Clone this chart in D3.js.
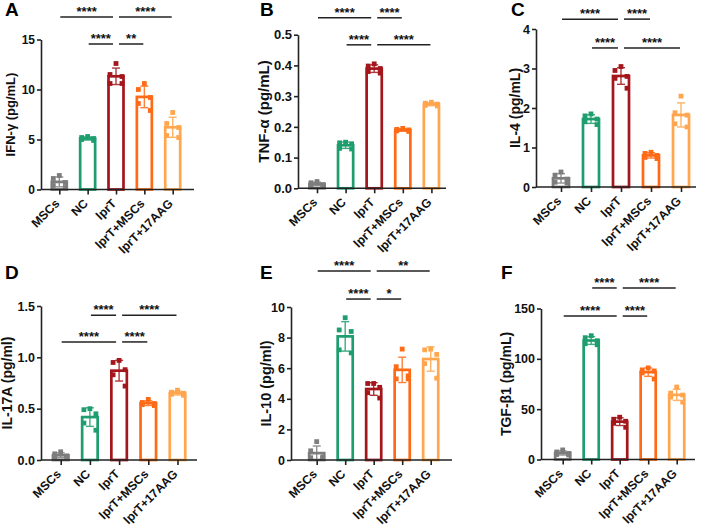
<!DOCTYPE html>
<html>
<head>
<meta charset="utf-8">
<script src="https://cdn.jsdelivr.net/npm/d3@7"></script>
<style>
  body { margin: 0; background: #fff; }
  svg { display: block; font-family: "Liberation Sans", Arial, sans-serif; font-weight: bold; }
</style>
</head>
<body>
<svg id="fig" width="702" height="527"></svg>
<script>
// groups + colours
var groups = ['MSCs', 'NC', 'lprT', 'lprT+MSCs', 'lprT+17AAG']
var colors = ['#7d7d7d', '#1e9e6f', '#a3161c', '#ff6a16', '#ffa64e']

// replicate values per group
var ifng = [[1.4, 1.1, 0.7, 0.4, 0.2], [5.3, 5.2, 5.1, 5.0, 4.9], [12.6, 11.5, 11.3, 10.6, 10.6], [10.6, 10.0, 9.2, 8.6, 7.9], [7.7, 6.6, 6.2, 5.4, 5.2]]
var tnfa = [[0.022, 0.018, 0.012, 0.010, 0.008], [0.15, 0.148, 0.145, 0.13, 0.128], [0.405, 0.398, 0.39, 0.38, 0.375], [0.195, 0.192, 0.19, 0.187, 0.185], [0.28, 0.277, 0.274, 0.27, 0.268]]
var il4 = [[0.38, 0.3, 0.2, 0.12, 0.1], [1.85, 1.8, 1.72, 1.65, 1.58], [3.05, 2.95, 2.8, 2.75, 2.5], [0.88, 0.85, 0.8, 0.75, 0.72], [2.3, 1.88, 1.82, 1.6, 1.52]]
var il17a = [[0.08, 0.06, 0.04, 0.03, 0.02], [0.5, 0.49, 0.45, 0.36, 0.29], [0.97, 0.95, 0.88, 0.83, 0.72], [0.59, 0.56, 0.55, 0.54, 0.53], [0.68, 0.66, 0.65, 0.64, 0.63]]
var il10 = [[1.2, 0.6, 0.2, 0.15, 0.1], [9.3, 8.5, 8.4, 7.2, 7.0], [5.0, 5.0, 4.75, 4.4, 4.05], [7.25, 6.1, 5.5, 5.3, 5.3], [7.25, 7.2, 6.9, 6.3, 5.35]]
var tgfb1 = [[9.5, 7.5, 6, 5, 4.5], [123, 121, 118, 115, 114], [42, 40, 38, 36, 32], [91, 89, 88, 86, 80], [72, 66, 64, 62, 57]]

// y ticks
var ifngTicks = [0, 5, 10, 15]
var tnfaTicks = [0, 0.1, 0.2, 0.3, 0.4, 0.5]
var il4Ticks = [0, 1, 2, 3, 4]
var il17aTicks = [0, 0.5, 1.0, 1.5]
var il10Ticks = [0, 2, 4, 6, 8, 10]
var tgfb1Ticks = [0, 50, 100, 150]

// significance brackets: [from, to, stars, y value]
var ifngSig = [['MSCs', 'lprT', '****', 17.25], ['lprT', 'lprT+17AAG', '****', 17.25], ['NC', 'lprT', '****', 14.55], ['lprT', 'lprT+MSCs', '**', 14.55]]
var tnfaSig = [['MSCs', 'lprT', '****', 0.555], ['lprT', 'lprT+MSCs', '****', 0.555], ['NC', 'lprT', '****', 0.467], ['lprT', 'lprT+17AAG', '****', 0.467]]
var il4Sig = [['MSCs', 'lprT', '****', 4.25], ['lprT', 'lprT+MSCs', '****', 4.25], ['NC', 'lprT', '****', 3.52], ['lprT', 'lprT+17AAG', '****', 3.52]]
var il17aSig = [['NC', 'lprT', '****', 1.41], ['lprT', 'lprT+17AAG', '****', 1.41], ['MSCs', 'lprT', '****', 1.15], ['lprT', 'lprT+MSCs', '****', 1.15]]
var il10Sig = [['MSCs', 'lprT', '****', 12.35], ['lprT', 'lprT+17AAG', '**', 12.35], ['NC', 'lprT', '****', 10.52], ['lprT', 'lprT+MSCs', '*', 10.52]]
var tgfb1Sig = [['NC', 'lprT', '****', 170.4], ['lprT', 'lprT+17AAG', '****', 170.4], ['MSCs', 'lprT', '****', 142.5], ['lprT', 'lprT+MSCs', '****', 142.5]]

var panels = [
  { letter: 'A', lx: 5, ly: 16, label: 'IFN-γ (pg/mL)', values: ifng, ticks: ifngTicks, fmt: d3.format('d'), sig: ifngSig,
    ox: 41, x0: 59.3, step: 28.35, xEnd: 194, yTop: 39.5, yBot: 189.5, labOff: 31, labSize: 13, tickSize: 12 },
  { letter: 'B', lx: 260, ly: 16, label: 'TNF-α (pg/mL)', values: tnfa, ticks: tnfaTicks, fmt: d3.format('.1f'), sig: tnfaSig,
    ox: 298, x0: 317, step: 28.6, xEnd: 446, yTop: 34.7, yBot: 188.3, labOff: 34, labSize: 15, tickSize: 13 },
  { letter: 'C', lx: 511, ly: 16, label: 'IL-4 (pg/mL)', values: il4, ticks: il4Ticks, fmt: d3.format('d'), sig: il4Sig,
    ox: 536, x0: 561, step: 30, xEnd: 696, yTop: 29, yBot: 187, labOff: 21, labSize: 14, tickSize: 12.5 },
  { letter: 'D', lx: 5, ly: 279, label: 'IL-17A (pg/ml)', values: il17a, ticks: il17aTicks, fmt: d3.format('.1f'), sig: il17aSig,
    ox: 41, x0: 60.7, step: 29.2, xEnd: 197, yTop: 306, yBot: 460, labOff: 34, labSize: 14, tickSize: 12.5 },
  { letter: 'E', lx: 260, ly: 279, label: 'IL-10 (pg/ml)', values: il10, ticks: il10Ticks, fmt: d3.format('d'), sig: il10Sig,
    ox: 291, x0: 316.7, step: 28.5, xEnd: 452, yTop: 307, yBot: 460, labOff: 25, labSize: 14.5, tickSize: 12.5 },
  { letter: 'F', lx: 501, ly: 279, label: 'TGF-β1 (pg/mL)', values: tgfb1, ticks: tgfb1Ticks, fmt: d3.format('d'), sig: tgfb1Sig,
    ox: 541, x0: 562.7, step: 28.5, xEnd: 695, yTop: 308.5, yBot: 459.5, labOff: 35, labSize: 14, tickSize: 12.5 }
]

// horizontal spread of the 5 dots inside each bar
var jitter = [0, -6, 6, -6, 6]

var svg = d3.select('#fig')

panels.forEach(function(p) {
  var g = svg.append('g')

  var x = d3.scalePoint()
    .domain(groups)
    .range([p.x0, p.x0 + p.step * (groups.length - 1)])

  var y = d3.scaleLinear()
    .domain([0, d3.max(p.ticks)])
    .range([p.yBot, p.yTop])

  var bw = p.step * 0.62

  var stats = p.values.map(function(v, i) {
    return { name: groups[i], color: colors[i], vals: v, mean: d3.mean(v), sd: d3.deviation(v) }
  })

  // bars
  g.selectAll('.bar')
    .data(stats)
    .enter()
    .append('rect')
    .attr('x', d => x(d.name) - bw / 2 + 1.3)
    .attr('width', bw - 2.6)
    .attr('y', d => y(d.mean))
    .attr('height', d => y(0) - y(d.mean))
    .attr('fill', 'white')
    .attr('stroke', d => d.color)
    .attr('stroke-width', 2.7)

  // dots
  stats.forEach(function(s) {
    g.selectAll(null)
      .data(s.vals)
      .enter()
      .append('rect')
      .attr('x', (v, j) => x(s.name) + jitter[j] - 2.4)
      .attr('y', v => y(v) - 2.4)
      .attr('width', 4.8)
      .attr('height', 4.8)
      .attr('fill', s.color)
  })

  // error bars (mean +/- SD)
  stats.forEach(function(s) {
    var cx = x(s.name)
    var eb = g.append('g').attr('stroke', s.color).attr('stroke-width', 1.4).attr('opacity', 0.85)
    eb.append('line').attr('x1', cx).attr('x2', cx).attr('y1', y(s.mean - s.sd)).attr('y2', y(s.mean + s.sd))
    eb.append('line').attr('x1', cx - 4).attr('x2', cx + 4).attr('y1', y(s.mean + s.sd)).attr('y2', y(s.mean + s.sd))
    eb.append('line').attr('x1', cx - 4).attr('x2', cx + 4).attr('y1', y(s.mean - s.sd)).attr('y2', y(s.mean - s.sd))
  })

  // y axis
  var ya = g.append('g')
    .attr('transform', 'translate(' + p.ox + ',0)')
    .call(d3.axisLeft(y).tickValues(p.ticks).tickFormat(p.fmt).tickSize(4).tickSizeOuter(0))
  ya.select('.domain').attr('stroke', '#222').attr('stroke-width', 1.6)
  ya.selectAll('.tick line').attr('stroke', '#222').attr('stroke-width', 1.6)
  ya.selectAll('.tick text')
    .attr('font-size', p.tickSize)
    .attr('font-weight', 'bold')
    .attr('font-family', '"Liberation Sans", Arial, sans-serif')
    .attr('fill', '#111')
    .attr('x', -6)

  // x axis
  var xa = g.append('g')
    .attr('transform', 'translate(0,' + p.yBot + ')')
    .call(d3.axisBottom(x).tickSize(5).tickSizeOuter(0))
  xa.select('.domain').remove()
  xa.append('line')
    .attr('x1', p.ox).attr('x2', p.xEnd)
    .attr('stroke', '#222').attr('stroke-width', 1.6)
  xa.selectAll('.tick line').attr('stroke', '#222').attr('stroke-width', 1.6)
  xa.selectAll('.tick text')
    .attr('font-size', 12.2)
    .attr('font-weight', 'bold')
    .attr('font-family', '"Liberation Sans", Arial, sans-serif')
    .attr('fill', '#111')
    .attr('text-anchor', 'end')
    .attr('x', -10)
    .attr('y', 6.5)
    .attr('dy', '0.35em')
    .attr('transform', 'rotate(-45)')

  // y label
  g.append('text')
    .attr('transform', 'translate(' + (p.ox - p.labOff) + ',' + (p.yTop + p.yBot) / 2 + ') rotate(-90)')
    .attr('text-anchor', 'middle')
    .attr('dy', '0.35em')
    .attr('font-size', p.labSize)
    .attr('fill', '#111')
    .text(p.label)

  // significance brackets
  p.sig.forEach(function(c) {
    var x1 = x(c[0]) + (c[0] === 'lprT' ? 3 : 1)
    var x2 = x(c[1]) - (c[1] === 'lprT' ? 3 : 1)
    var yy = y(c[3])
    g.append('line')
      .attr('x1', x1).attr('x2', x2)
      .attr('y1', yy).attr('y2', yy)
      .attr('stroke', '#222')
      .attr('stroke-width', 1.5)
    g.append('text')
      .attr('x', (x1 + x2) / 2)
      .attr('y', yy - 1)
      .attr('text-anchor', 'middle')
      .attr('font-size', 13)
      .attr('fill', '#111')
      .text(c[2])
  })

  // panel letter
  svg.append('text')
    .attr('x', p.lx)
    .attr('y', p.ly)
    .attr('font-size', 19)
    .attr('fill', '#000')
    .text(p.letter)
})
</script>
</body>
</html>
